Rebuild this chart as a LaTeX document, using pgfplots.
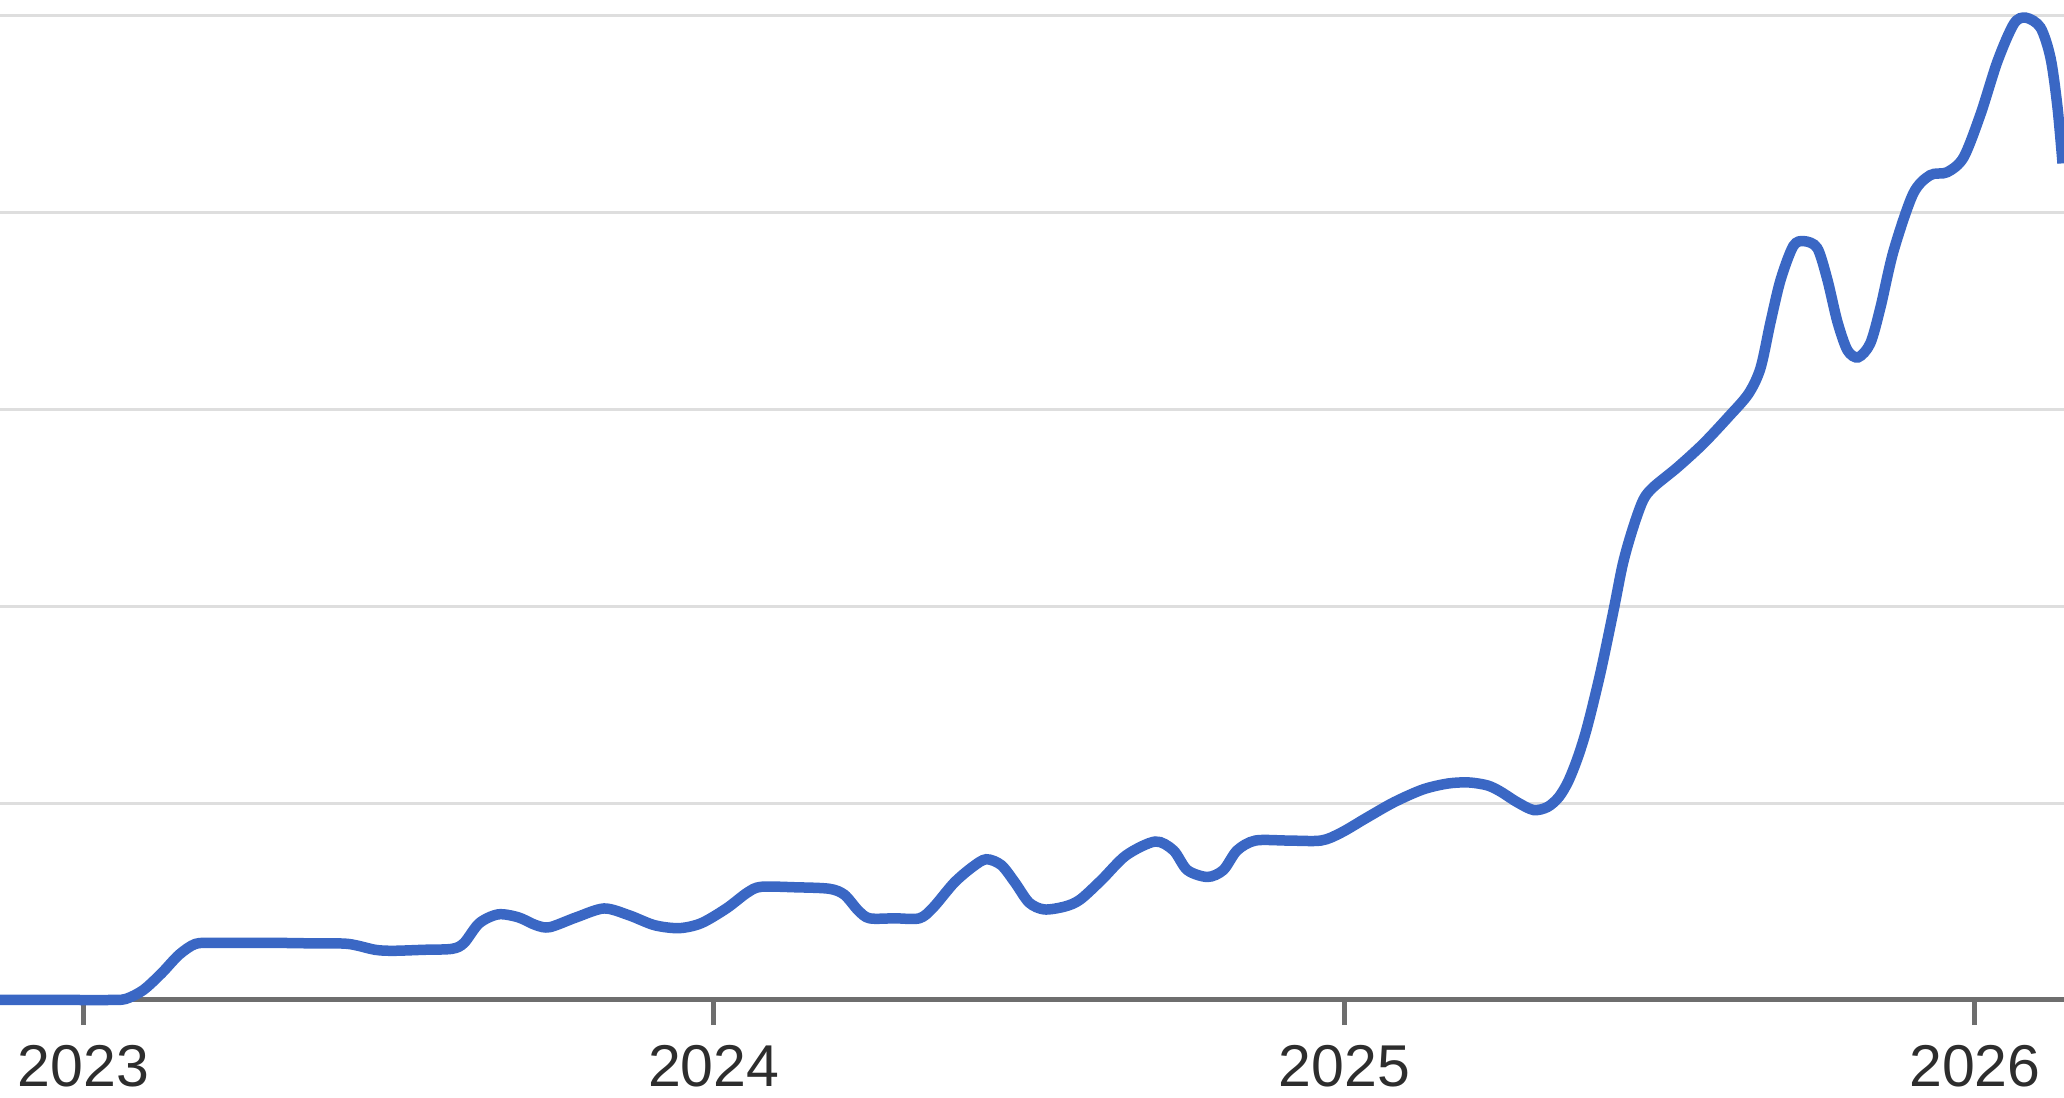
\documentclass[border=0pt]{standalone}
\usepackage{fontspec}
\setmainfont{Liberation Sans}
\usepackage{pgfplots}
\pgfplotsset{compat=1.18}
\usepackage{pgfplotstable}
\definecolor{trendblue}{RGB}{58,103,196}
\definecolor{gridgray}{RGB}{222,222,222}
\definecolor{axisgray}{RGB}{110,110,110}
\definecolor{labelgray}{RGB}{45,45,45}

% interest over time
\pgfplotstableread{
x y
2022.868 0
2022.930 0
2022.990 0
2023.040 0
2023.067 0.1
2023.095 1.0
2023.124 2.7
2023.152 4.6
2023.178 5.7
2023.208 5.8
2023.260 5.8
2023.310 5.8
2023.365 5.75
2023.420 5.7
2023.463 5.1
2023.492 5.0
2023.540 5.1
2023.585 5.2
2023.604 5.8
2023.628 7.8
2023.658 8.7
2023.690 8.4
2023.718 7.6
2023.740 7.4
2023.782 8.4
2023.826 9.3
2023.866 8.6
2023.906 7.6
2023.945 7.3
2023.980 7.8
2024.020 9.3
2024.053 10.9
2024.075 11.5
2024.130 11.45
2024.183 11.3
2024.207 10.7
2024.229 9.1
2024.247 8.3
2024.287 8.3
2024.326 8.3
2024.348 9.4
2024.381 11.9
2024.410 13.5
2024.432 14.3
2024.456 13.7
2024.478 11.9
2024.500 9.9
2024.524 9.2
2024.557 9.5
2024.581 10.2
2024.615 12.2
2024.654 14.7
2024.700 16.1
2024.729 15.2
2024.751 13.2
2024.783 12.5
2024.808 13.2
2024.830 15.2
2024.859 16.2
2024.910 16.2
2024.963 16.2
2024.995 17.0
2025.035 18.5
2025.079 20.1
2025.125 21.4
2025.165 22.0
2025.198 22.1
2025.227 21.8
2025.247 21.2
2025.274 20.1
2025.300 19.3
2025.322 19.6
2025.340 20.6
2025.355 22.2
2025.370 24.6
2025.385 27.7
2025.406 33.2
2025.427 39.6
2025.442 44.4
2025.458 48.0
2025.474 50.8
2025.490 52.1
2025.528 54.1
2025.569 56.5
2025.610 59.3
2025.641 61.6
2025.660 64.2
2025.676 68.9
2025.692 73.2
2025.712 76.6
2025.729 77.1
2025.750 76.4
2025.766 73.2
2025.782 68.9
2025.798 66.0
2025.815 65.3
2025.834 66.7
2025.850 70.3
2025.871 76.1
2025.902 81.9
2025.929 83.8
2025.956 84.1
2025.982 85.6
2026.009 90.0
2026.036 95.4
2026.062 99.2
2026.081 99.8
2026.104 98.8
2026.120 95.7
2026.131 90.7
2026.139 85.0
}\trend

\begin{document}
\begin{tikzpicture}
\begin{axis}[
    at={(0pt,19.6pt)}, anchor=south west,
    scale only axis,
    width=412.8pt, height=200pt,
    xmin=2022.868, xmax=2026.1416,
    ymin=0, ymax=101.6,
    clip=false,
    axis x line*=bottom,
    axis y line*=left,
    axis line style={-},
    x axis line style={draw=axisgray, line width=1pt},
    y axis line style={draw=none},
    xtick={2023,2024,2025,2026},
    xticklabels={2023,2024,2025,2026},
    tick align=outside,
    major tick length=5pt,
    xtick style={draw=axisgray, line width=1pt},
    xticklabel style={font=\fontsize{11.8}{14}\selectfont, text=labelgray,
        anchor=base, inner sep=0pt, yshift=-12.2pt},
    ytick={20,40,60,80,100},
    yticklabels={},
    ytick style={draw=none},
    ymajorgrids,
    major grid style={draw=gridgray, line width=0.6pt},
]
\addplot[trendblue, line width=2.1pt, smooth, tension=0.5] table {\trend};
\end{axis}
\pgfresetboundingbox
\useasboundingbox (0,0) rectangle (412.8pt,219.6pt);
\end{tikzpicture}
\end{document}
